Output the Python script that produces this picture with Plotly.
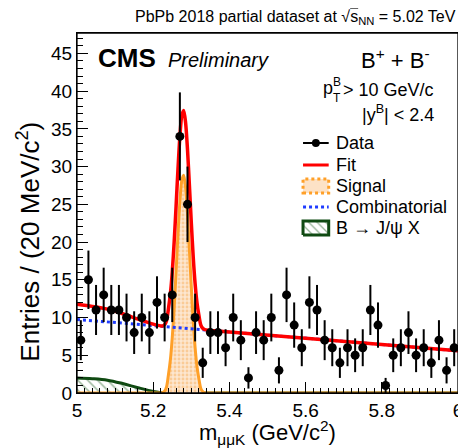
import numpy as np
import plotly.graph_objects as go

# ---------------- data ----------------
bin_centers = [round(5.01 + 0.02 * i, 2) for i in range(50)]
counts = [7, 15, 11, 13, 11, 11, 10, 8, 10, 8,
          12, 10, 13, 34, 25, 10, 4, 8, 8, 6,
          10, 7, 2, 8, 7, 10, 3, 13, 9, 6,
          12, 11, 7, 6, 4, 6, 5, 6, 11, 9,
          1, 5, 6, 8, 5, 6, 4, 7, 3, 6]

# combinatorial background (straight line)
bkg_x = [5.00, 6.00]
bkg_y = [9.75, 5.60]

# B -> J/psi X component
jpsix_x = [5.00, 5.04, 5.08, 5.12, 5.16, 5.20, 5.22, 5.225, 5.23, 5.235, 5.24, 6.00]
jpsix_y = [2.0, 1.9, 1.7, 1.25, 0.7, 0.2, 0.05, 0.03, 0.02, 0.01, 0.0, 0.0]

# signal component
sig_x = [5.00, 5.20, 5.22, 5.225, 5.23, 5.235, 5.24, 5.245, 5.25, 5.255, 5.26, 5.265,
         5.27, 5.275, 5.28, 5.285, 5.29, 5.295, 5.30, 5.305, 5.31, 5.315, 5.32,
         5.325, 5.33, 5.335, 5.34, 5.36, 6.00]
sig_y = [0.0, 0.0, 0.0, 0.05, 0.25, 0.8, 2.41, 4.38, 7.32, 11.29, 16.03, 20.98,
         25.32, 28.15, 28.85, 27.25, 23.72, 19.03, 14.07, 9.58, 6.02, 3.48, 1.86,
         0.6, 0.2, 0.05, 0.0, 0.0, 0.0]

# total fit
fit_x = [5.00, 5.04, 5.08, 5.12, 5.16, 5.20, 5.22, 5.225, 5.23, 5.235, 5.24, 5.245,
         5.25, 5.255, 5.26, 5.265, 5.27, 5.275, 5.28, 5.285, 5.29, 5.295, 5.30,
         5.305, 5.31, 5.315, 5.32, 5.325, 5.33, 5.335, 5.34, 5.36, 6.00]
fit_y = [11.75, 11.48, 11.12, 10.50, 9.79, 9.12, 8.89, 8.90, 9.07, 9.59, 11.16, 13.11,
         16.03, 19.98, 24.70, 29.63, 33.95, 36.76, 37.44, 35.82, 32.27, 27.56, 22.58,
         18.06, 14.48, 11.92, 10.28, 9.00, 8.58, 8.41, 8.34, 8.26, 5.60]

x_ticks = [5.0, 5.2, 5.4, 5.6, 5.8, 6.0]
x_ticklabels = ["5", "5.2", "5.4", "5.6", "5.8", "6"]
y_ticks = [0, 5, 10, 15, 20, 25, 30, 35, 40, 45]

# ---------------- layout helpers ----------------
OFF = 8                    # page body margin
PAGE_W, PAGE_H = 466, 448
W, H = PAGE_W - OFF, PAGE_H - OFF
PL, PR, PT, PB = 77, 463, 33, 393  # plot area in page pixels


def px(xp):
    return (xp - PL) / (PR - PL)


def py(yp):
    return (PB - yp) / (PB - PT)


FONT = "Liberation Sans, Arial, Helvetica, sans-serif"
ORANGE = "#ffa028"
GREEN = "#0f4a12"
BLUE = "#1f3cff"
RED = "#ff0000"
HATCH = "#2f6a32"

fig = go.Figure()

# B -> J/psi X (hatched)
fig.add_trace(go.Scatter(
    x=jpsix_x, y=jpsix_y, mode="lines", line=dict(color=GREEN, width=3, shape="spline"),
    fill="tozeroy", fillcolor="white",
    fillpattern=dict(shape="\\", fgcolor=HATCH, bgcolor="white", size=7, solidity=0.22),
    showlegend=False, hoverinfo="skip"))

# Signal (dotted fill)
fig.add_trace(go.Scatter(
    x=sig_x, y=sig_y, mode="lines", line=dict(color=ORANGE, width=3, shape="spline", smoothing=0.8),
    fill="tozeroy", fillcolor="#fde2c6",
    fillpattern=dict(shape=".", fgcolor="#f7b060", bgcolor="#fde6cf", size=4, solidity=0.4),
    showlegend=False, hoverinfo="skip"))

# Combinatorial
fig.add_trace(go.Scatter(
    x=bkg_x, y=bkg_y, mode="lines", line=dict(color=BLUE, width=3, dash="dot"),
    showlegend=False, hoverinfo="skip"))

# Fit
fig.add_trace(go.Scatter(
    x=fit_x, y=fit_y, mode="lines", line=dict(color=RED, width=3.5, shape="spline", smoothing=0.8),
    showlegend=False, hoverinfo="skip"))

# Data
fig.add_trace(go.Scatter(
    x=bin_centers, y=counts, mode="markers",
    marker=dict(color="black", size=9, symbol="circle"),
    error_y=dict(type="data", array=list(np.sqrt(counts)), color="black", thickness=2, width=0),
    showlegend=False, hoverinfo="skip", cliponaxis=True))

# ---- manual legend ----
lx0, lx1 = 306, 332
rows = [143, 165, 186, 207, 228]
shapes = []
shapes.append(dict(type="line", xref="paper", yref="paper", x0=px(lx0), x1=px(lx1),
                   y0=py(rows[0]), y1=py(rows[0]), line=dict(color="black", width=2)))
shapes.append(dict(type="circle", xref="paper", yref="paper", x0=px(315), x1=px(323),
                   y0=py(rows[0] + 4), y1=py(rows[0] - 4), fillcolor="black", line=dict(color="black", width=0)))
shapes.append(dict(type="line", xref="paper", yref="paper", x0=px(lx0), x1=px(lx1),
                   y0=py(rows[1]), y1=py(rows[1]), line=dict(color=RED, width=3)))
shapes.append(dict(type="rect", xref="paper", yref="paper", x0=px(lx0), x1=px(lx1),
                   y0=py(rows[2] + 7), y1=py(rows[2] - 7), fillcolor="#fde2c6",
                   line=dict(color=ORANGE, width=3, dash="dot")))
shapes.append(dict(type="line", xref="paper", yref="paper", x0=px(lx0), x1=px(lx1),
                   y0=py(rows[3]), y1=py(rows[3]), line=dict(color=BLUE, width=3, dash="dot")))
# plot frame (drawn explicitly so the right edge is always visible)
shapes.append(dict(type="rect", xref="paper", yref="paper", x0=0, x1=1, y0=0, y1=1,
                   line=dict(color="black", width=1.3), layer="above"))

# hatched legend box for J/psi X (as a filled trace in paper space)
fig.add_trace(go.Scatter(
    x=[px(lx0), px(lx1), px(lx1), px(lx0), px(lx0)],
    y=[py(rows[4] + 7), py(rows[4] + 7), py(rows[4] - 7), py(rows[4] - 7), py(rows[4] + 7)],
    xaxis="x2", yaxis="y2", mode="lines", line=dict(color=GREEN, width=3),
    fill="toself", fillcolor="white",
    fillpattern=dict(shape="\\", fgcolor=HATCH, bgcolor="white", size=6, solidity=0.22),
    showlegend=False, hoverinfo="skip"))

ann = []


def add_text(text, x, y, size, xanchor="left", yanchor="middle", **kw):
    ann.append(dict(text=text, x=px(x), y=py(y), xref="paper", yref="paper", showarrow=False,
                    xanchor=xanchor, yanchor=yanchor, font=dict(family=FONT, size=size, color="black"), **kw))


add_text("PbPb 2018 partial dataset at √<span style='text-decoration:overline'>s</span><sub>NN</sub> = 5.02 TeV",
         463, 18, 16, xanchor="right")
add_text("<b>CMS</b>", 96, 58, 26)
add_text("<i>Preliminary</i>", 167, 60, 20)
add_text("B<sup>+</sup> + B<sup>-</sup>", 437, 59, 22, xanchor="right")
add_text("p", 324, 88, 18)
add_text("B", 334, 82, 12)
add_text("T", 334, 98, 12)
add_text("> 10 GeV/c", 441, 90, 18, xanchor="right")
add_text("|y<sup>B</sup>| < 2.4", 441, 114, 18, xanchor="right")
legend_labels = ["Data", "Fit", "Signal", "Combinatorial", "B → J/ψ X"]
for lab, r in zip(legend_labels, rows):
    add_text(lab, 337, r, 18)
add_text("m<sub>μμK</sub> (GeV/c<sup>2</sup>)", 270, 432, 22, xanchor="center")
add_text("Entries / (20 MeV/c<sup>2</sup>)", 28, 242, 26, xanchor="center", textangle=-90)

fig.update_layout(
    width=W, height=H,
    margin=dict(l=PL - OFF, r=W - (PR - OFF), t=PT - OFF, b=H - (PB - OFF), pad=0),
    paper_bgcolor="white", plot_bgcolor="white",
    font=dict(family=FONT, size=19, color="black"),
    shapes=shapes, annotations=ann,
    xaxis=dict(range=[5, 6], tickvals=x_ticks, ticktext=x_ticklabels, ticks="inside", ticklen=11,
               tickwidth=1, tickcolor="black", showline=True, mirror=True, linecolor="black", linewidth=1,
               showgrid=False, zeroline=False, tickfont=dict(size=19), ticklabeloverflow="allow",
               minor=dict(dtick=0.02, ticks="inside", ticklen=5, tickcolor="black", showgrid=False)),
    yaxis=dict(range=[0, 47.7], tickvals=y_ticks, ticks="inside", ticklen=11, tickwidth=1,
               tickcolor="black", showline=True, mirror=True, linecolor="black", linewidth=1,
               showgrid=False, zeroline=False, tickfont=dict(size=19), ticklabeloverflow="allow",
               minor=dict(dtick=1, ticks="inside", ticklen=6, tickcolor="black", showgrid=False)),
    xaxis2=dict(domain=[0, 1], range=[0, 1], overlaying="x", visible=False, fixedrange=True),
    yaxis2=dict(domain=[0, 1], range=[0, 1], overlaying="y", visible=False, fixedrange=True),
)

fig.write_html("out.html")
